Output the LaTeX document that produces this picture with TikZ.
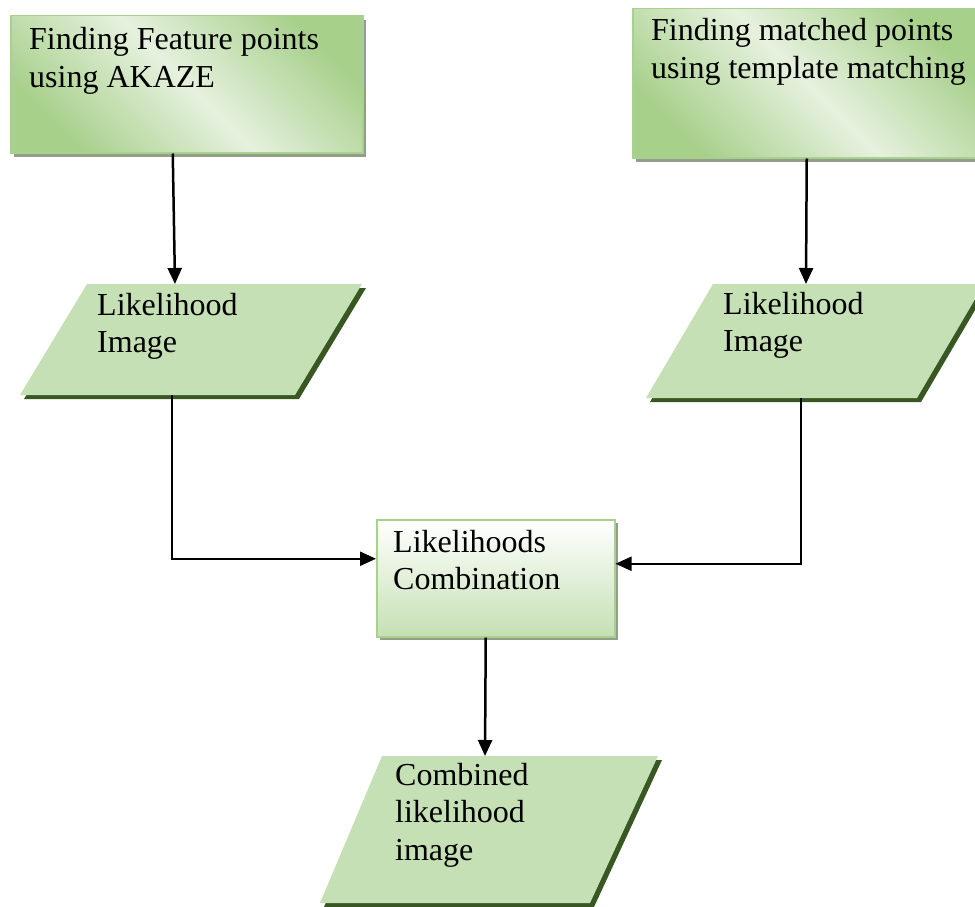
\documentclass[tikz,border=0pt]{standalone}
\usepackage{fontspec}
\setmainfont{Liberation Serif}
\usetikzlibrary{arrows.meta,calc,shadows}
\definecolor{gdark}{HTML}{A7D08B}
\definecolor{glight}{HTML}{E6F1DE}
\definecolor{gborder}{HTML}{A9D18E}
\definecolor{pfill}{HTML}{C5E0B4}
\definecolor{pshadow}{HTML}{385723}
\definecolor{bshadow}{HTML}{929E89}
\pgfdeclarehorizontalshading{mirrorgreen}{100bp}{color(0bp)=(gdark); color(25bp)=(gdark); color(50bp)=(glight); color(75bp)=(gdark); color(100bp)=(gdark)}
\begin{document}
\begin{tikzpicture}[x=1pt,y=-1pt,
  topbox/.style={shade, shading=mirrorgreen, shading angle=45, draw=gborder, line width=1.5pt, inner sep=0pt, anchor=north west,
    general shadow={fill=bshadow, shadow xshift=3pt, shadow yshift=-4pt}},
  combbox/.style={shade, top color=white, bottom color=pfill, draw=gborder, line width=1.5pt, inner sep=0pt, anchor=north west,
    general shadow={fill=bshadow, shadow xshift=3pt, shadow yshift=-3pt}},
  pshape/.style={fill=pfill},
  pshad/.style={fill=pshadow},
  txt/.style={anchor=base west, inner sep=0pt, font=\fontsize{32}{37.5}\selectfont},
  conn/.style={draw=black, line width=2.5pt, -{Triangle[length=16pt,width=14pt]}},
  elbow/.style={draw=black, line width=2.2pt, -{Triangle[length=16pt,width=14pt]}}]
\useasboundingbox (0,0) rectangle (975,907);
\clip (0,0) rectangle (975,907);
\fill[white] (0,0) rectangle (975,907);

% top boxes
\node[topbox, minimum width=352pt, minimum height=137pt] (b1) at (10,15) {};
\node[topbox, minimum width=348pt, minimum height=149pt] (b2) at (632,8) {};
\node[txt] (t1) at (29,50) {\begin{tabular}[t]{@{}l@{}}Finding Feature points\\using AKAZE\end{tabular}};
\node[txt] (t2) at (651,41) {\begin{tabular}[t]{@{}l@{}}Finding matched points\\using template matching\end{tabular}};

% parallelogram 1
\fill[pshad] (91,288) -- (366,288) -- (299,399) -- (24,399) -- cycle;
\fill[pshape] (87,284) -- (362,284) -- (295,395) -- (20,395) -- cycle;
\coordinate (p1top) at (175,284);
\coordinate (p1bot) at (172,395);
\node[txt] (t3) at (97,315) {\begin{tabular}[t]{@{}l@{}}Likelihood\\Image\end{tabular}};

% parallelogram 2
\fill[pshad] (717,288) -- (988,288) -- (921,402) -- (650,402) -- cycle;
\fill[pshape] (713,284) -- (984,284) -- (917,398) -- (646,398) -- cycle;
\coordinate (p2top) at (806,284);
\coordinate (p2bot) at (801,398);
\node[txt] (t4) at (723,314) {\begin{tabular}[t]{@{}l@{}}Likelihood\\Image\end{tabular}};

% combination box
\node[combbox, minimum width=238pt, minimum height=117pt] (c) at (376,519) {};
\node[txt] (t5) at (393,552) {\begin{tabular}[t]{@{}l@{}}Likelihoods\\Combination\end{tabular}};

% parallelogram 3
\fill[pshad] (386,760) -- (662,760) -- (594,907) -- (324,907) -- cycle;
\fill[pshape] (382,756) -- (658,756) -- (590,903) -- (320,903) -- cycle;
\coordinate (p3top) at (485,756);
\node[txt] (t6) at (395,785) {\begin{tabular}[t]{@{}l@{}}Combined\\likelihood\\image\end{tabular}};

% connectors
\draw[conn] ($(b1.south)+(-14,0)$) -- (p1top);
\draw[conn] (b2.south) -- (p2top);
\draw[elbow] (p1bot) |- ($(c.west)+(0,-19.5)$);
\draw[elbow] (p2bot) |- ($(c.east)+(0,-14.5)$);
\draw[conn] ($(c.south)+(-10,0)$) -- (p3top);
\end{tikzpicture}
\end{document}
